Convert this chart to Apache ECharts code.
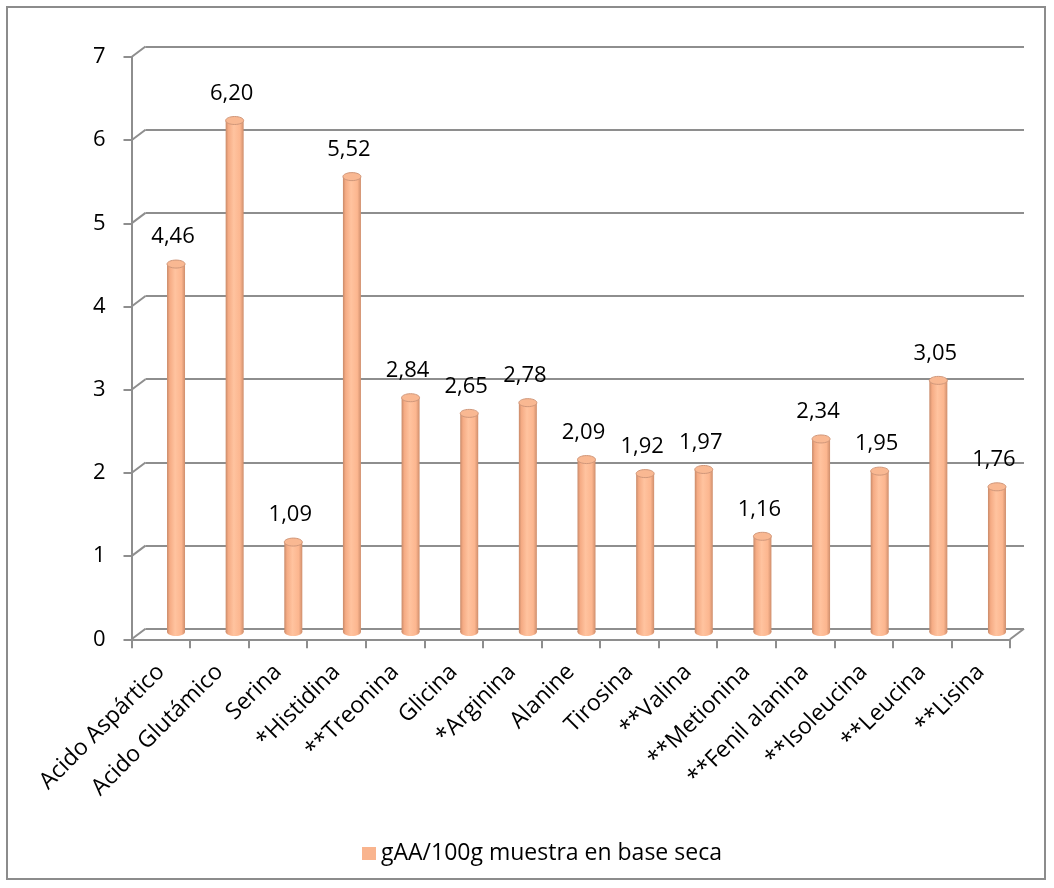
<!DOCTYPE html>
<html>
<head>
<meta charset="utf-8">
<script src="https://cdn.jsdelivr.net/npm/echarts@6/dist/echarts.min.js"></script>
<style>
  html, body { margin: 0; padding: 0; background: #fff; }
  #frame { position: absolute; left: 6px; top: 6px; width: 1040px; height: 874px; border: 2px solid #8c8c8c; box-sizing: border-box; }
  #chart { position: absolute; left: 0; top: 0; width: 1054px; height: 888px; }
</style>
</head>
<body>
<div id="frame"></div>
<div id="chart"></div>
<script>
// Amino acid content, g AA per 100 g sample (dry basis)
const categories = ['Acido Aspártico', 'Acido Glutámico', 'Serina', '*Histidina', '**Treonina',
  'Glicina', '*Arginina', 'Alanine', 'Tirosina', '**Valina', '**Metionina',
  '**Fenil alanina', '**Isoleucina', '**Leucina', '**Lisina'];
const values = [4.46, 6.20, 1.09, 5.52, 2.84, 2.65, 2.78, 2.09, 1.92, 1.97, 1.16, 2.34, 1.95, 3.05, 1.76];
const yTicks = [0, 1, 2, 3, 4, 5, 6, 7];
const seriesName = 'gAA/100g muestra en base seca';

const FONT = '"Open Sans", sans-serif';
const GRID_COLOR = '#8e8e8e';
// depth of the 3D box: shift from the front plane to the back wall
const DX = 14, DY = -10.5;

const chart = echarts.init(document.getElementById('chart'), null, { renderer: 'canvas' });

const fmt = v => v.toFixed(2).replace('.', ',');

// cylinder column with its value label
function renderCylinder(params, api) {
  const v = api.value(1);
  const top = api.coord([api.value(0), v]);
  const base = api.coord([api.value(0), 0]);
  const w = 18, ry = 4;
  const grad = new echarts.graphic.LinearGradient(0, 0, 1, 0, [
    { offset: 0, color: '#c98a69' },
    { offset: 0.15, color: '#f5ab84' },
    { offset: 0.45, color: '#ffc39f' },
    { offset: 0.8, color: '#fcb68f' },
    { offset: 1, color: '#cf8e6c' }
  ]);
  return {
    type: 'group',
    children: [
      { type: 'ellipse', shape: { cx: top[0], cy: base[1], rx: w / 2, ry: ry }, style: { fill: grad } },
      { type: 'rect', shape: { x: top[0] - w / 2, y: top[1], width: w, height: base[1] - top[1] }, style: { fill: grad } },
      { type: 'ellipse', shape: { cx: top[0], cy: top[1], rx: w / 2, ry: ry },
        style: { fill: '#f9b892', stroke: '#d0977a', lineWidth: 1 } },
      { type: 'text', x: top[0] - 3, y: top[1] - 27,
        style: { text: fmt(v), font: '22px ' + FONT, fill: '#000', align: 'center', verticalAlign: 'middle' } }
    ]
  };
}

// slanted connectors between the front axis and the back wall
function renderDepthLines(params, api) {
  const v = api.value(1);
  const p = api.coord([0, v]);
  const cs = params.coordSys;
  const style = { stroke: GRID_COLOR, lineWidth: 2 };
  const children = [
    { type: 'line', shape: { x1: cs.x, y1: p[1], x2: cs.x + DX, y2: p[1] + DY }, style: style }
  ];
  if (v === 0) {
    children.push({ type: 'line',
      shape: { x1: cs.x + cs.width, y1: p[1], x2: cs.x + cs.width + DX, y2: p[1] + DY }, style: style });
  }
  return { type: 'group', children: children };
}

const front = { left: 131.5, top: 57, width: 878.5, height: 582.3 };

const option = {
  animation: false,
  backgroundColor: 'transparent',
  grid: [
    // front plane: visible axes
    { left: front.left, top: front.top, width: front.width, height: front.height, outerBoundsMode: 'none' },
    // back wall: gridlines
    { left: front.left + DX, top: front.top + DY, width: front.width, height: front.height, outerBoundsMode: 'none' },
    // column plane
    { left: 146.7, top: 54.5, width: 879.6, height: 577.5, outerBoundsMode: 'none' }
  ],
  xAxis: [
    {
      gridIndex: 0, type: 'category', data: categories, boundaryGap: true,
      axisLine: { show: true, lineStyle: { color: GRID_COLOR, width: 2 } },
      axisTick: { show: true, length: 9, interval: 0, lineStyle: { color: GRID_COLOR, width: 2 } },
      axisLabel: { interval: 0, rotate: 45, margin: 29, color: '#000', fontSize: 23, fontFamily: FONT }
    },
    { gridIndex: 1, type: 'category', data: categories, show: false },
    { gridIndex: 2, type: 'category', data: categories, show: false }
  ],
  yAxis: [
    {
      gridIndex: 0, type: 'value', min: 0, max: 7, interval: 1,
      axisLine: { show: true, lineStyle: { color: GRID_COLOR, width: 2 } },
      axisTick: { show: true, length: 8, lineStyle: { color: GRID_COLOR, width: 2 } },
      axisLabel: { margin: 26, color: '#000', fontSize: 22, fontFamily: FONT },
      splitLine: { show: false }
    },
    {
      gridIndex: 1, type: 'value', min: 0, max: 7, interval: 1,
      axisLine: { show: false }, axisTick: { show: false }, axisLabel: { show: false },
      splitLine: { show: true, showMinLine: true, showMaxLine: true, lineStyle: { color: GRID_COLOR, width: 2 } }
    },
    { gridIndex: 2, type: 'value', min: 0, max: 7, interval: 1, show: false, splitLine: { show: false } }
  ],
  legend: {
    data: [seriesName],
    left: 357, top: 837,
    icon: 'rect', itemWidth: 14, itemHeight: 13, itemGap: 10,
    textStyle: { color: '#000', fontSize: 23, fontFamily: FONT }
  },
  series: [
    {
      type: 'custom', name: 'depth', xAxisIndex: 0, yAxisIndex: 0, silent: true, z: 1,
      data: yTicks.map(v => [0, v]),
      encode: { x: 0, y: 1 },
      renderItem: renderDepthLines
    },
    {
      type: 'custom', name: seriesName, xAxisIndex: 2, yAxisIndex: 2, z: 3,
      itemStyle: { color: '#f9b48e' },
      data: values.map((v, i) => [i, v]),
      encode: { x: 0, y: 1 },
      renderItem: renderCylinder
    }
  ]
};

chart.setOption(option);
</script>
</body>
</html>
